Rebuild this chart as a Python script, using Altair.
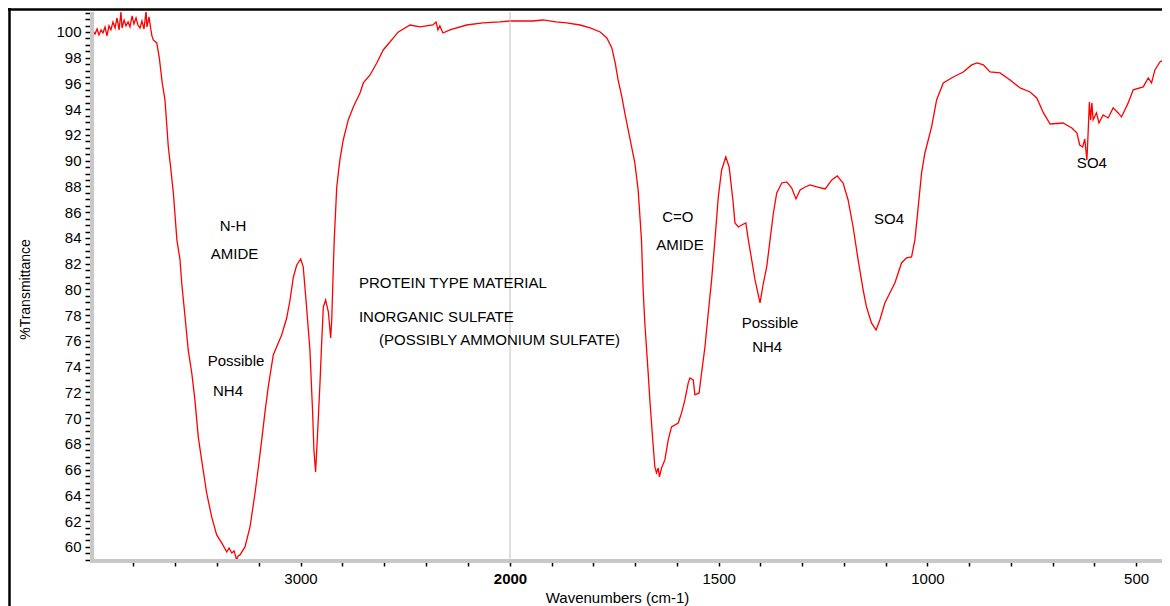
import altair as alt
import pandas as pd

# ---- spectrum ----
wavenumber = [
    3990, 3981, 3971, 3962, 3952, 3943, 3933, 3924, 3914, 3905, 3895, 3885, 3876, 3866,
    3857, 3852, 3842, 3833, 3823, 3814, 3804, 3795, 3785, 3776, 3766, 3757, 3747, 3737,
    3733, 3723, 3714, 3709, 3703, 3686, 3674, 3660, 3647, 3639, 3631, 3620, 3607, 3590,
    3575, 3567, 3551, 3536, 3519, 3504, 3488, 3472, 3448, 3424, 3400, 3376, 3352, 3341,
    3328, 3317, 3305, 3298, 3289, 3265, 3241, 3217, 3201, 3185, 3170, 3154, 3130, 3106,
    3090, 3066, 3050, 3034, 3018, 2999, 2987, 2971, 2955, 2942, 2936, 2928, 2920, 2907,
    2899, 2891, 2880, 2867, 2856, 2851, 2844, 2839, 2827, 2812, 2796, 2772, 2748, 2716,
    2700, 2668, 2636, 2605, 2573, 2533, 2477, 2430, 2368, 2353, 2344, 2335, 2320, 2287,
    2207, 2129, 2048, 2000, 1945, 1921, 1890, 1864, 1832, 1808, 1784, 1768, 1756, 1748,
    1741, 1732, 1724, 1712, 1701, 1693, 1685, 1681, 1677, 1669, 1665, 1658, 1653, 1649,
    1645, 1642, 1637, 1629, 1621, 1613, 1597, 1589, 1581, 1573, 1569, 1561, 1557, 1547,
    1541, 1533, 1525, 1517, 1509, 1501, 1493, 1483, 1475, 1466, 1461, 1453, 1445, 1435,
    1429, 1421, 1413, 1401, 1393, 1385, 1377, 1369, 1361, 1349, 1337, 1325, 1315, 1305,
    1293, 1281, 1265, 1245, 1229, 1216, 1202, 1190, 1178, 1166, 1154, 1146, 1134, 1123,
    1114, 1102, 1090, 1078, 1062, 1050, 1038, 1030, 1022, 1014, 1006, 990, 978, 962,
    938, 914, 894, 881, 866, 850, 826, 802, 778, 754, 738, 722, 706, 675,
    654, 642, 635, 628, 623, 618, 616, 612, 609, 606, 603, 595, 589, 579,
    567, 555, 543, 535, 519, 507, 483, 471, 463, 455, 443, 435, 427, 423, 419,
]
transmittance = [
    100.08, 99.84, 100.23, 99.77, 100.16, 99.92, 100.39, 99.69, 100.47, 100.16, 100.78, 100.31, 101.09, 100.16,
    101.55, 100.31, 100.93, 100.47, 100.78, 100.39, 101.24, 100.62, 101.09, 100.54, 100.31, 100.85, 100.23, 101.63,
    100.39, 101.17, 100.16, 99.69, 99.38, 99.15, 97.98, 96.04, 94.72, 92.93, 91.07, 89.51, 87.50, 83.85,
    82.29, 80.50, 77.86, 75.30, 73.51, 71.42, 68.55, 66.76, 64.19, 62.33, 60.93, 60.31, 59.61, 59.92,
    59.53, 59.69, 58.99, 59.30, 59.38, 60.00, 61.55, 64.19, 66.21, 68.31, 70.41, 72.43, 74.91, 75.84,
    76.46, 77.78, 79.18, 80.97, 81.90, 82.37, 81.75, 78.64, 75.30, 70.41, 67.53, 65.83, 68.31, 72.74,
    75.84, 78.64, 79.18, 78.25, 76.23, 77.63, 81.36, 83.85, 87.96, 90.06, 91.61, 93.17, 94.17, 95.26,
    96.04, 96.66, 97.59, 98.60, 99.22, 100.00, 100.54, 100.39, 100.54, 100.78, 100.16, 100.47, 99.92, 100.16,
    100.54, 100.70, 100.78, 100.85, 100.85, 100.93, 100.78, 100.70, 100.54, 100.31, 100.00, 99.53, 98.76, 97.59,
    96.27, 94.95, 93.55, 91.61, 89.83, 87.73, 83.85, 79.96, 77.40, 73.52, 71.42, 68.31, 66.21, 65.75,
    66.13, 65.44, 66.13, 66.76, 68.31, 69.32, 69.63, 70.41, 71.42, 72.74, 73.13, 72.97, 71.81, 71.96,
    73.52, 75.53, 78.17, 80.74, 83.85, 87.18, 89.28, 90.29, 89.51, 86.95, 85.17, 84.85, 85.01, 85.17,
    83.85, 82.29, 80.74, 78.95, 80.50, 81.75, 83.85, 85.94, 87.50, 88.27, 88.35, 87.88, 87.03, 87.73,
    87.96, 88.12, 87.96, 87.81, 88.51, 88.82, 88.27, 86.95, 84.85, 82.29, 79.96, 78.64, 77.40, 76.85,
    77.63, 78.95, 79.73, 80.50, 82.06, 82.45, 82.52, 83.85, 86.41, 89.05, 90.60, 92.62, 94.72, 96.04,
    96.50, 96.89, 97.44, 97.59, 97.44, 96.89, 96.82, 96.27, 95.65, 95.34, 94.87, 93.71, 92.85, 92.93,
    92.54, 92.16, 91.22, 91.07, 91.69, 90.06, 91.38, 94.56, 93.17, 94.49, 93.17, 93.71, 92.93, 93.55,
    93.32, 94.10, 93.71, 93.40, 94.49, 95.50, 95.73, 96.43, 96.04, 97.05, 97.67, 97.83, 98.37, 99.38, 99.61,
]

# ---- annotations ----
center_labels = ["N-H", "AMIDE", "Possible", "NH4", "C=O", "AMIDE", "Possible", "NH4", "SO4", "SO4"]
center_wn = [3322, 3315, 3308, 3346, 1598, 1593, 1377, 1384, 1092, 606]
center_t = [84.93, 82.75, 74.44, 72.11, 85.63, 83.45, 77.39, 75.53, 85.47, 89.82]

left_labels = ["PROTEIN TYPE MATERIAL", "INORGANIC SULFATE", "(POSSIBLY AMMONIUM SULFATE)"]
left_wn = [2721, 2721, 2625]
left_t = [80.50, 77.86, 76.07]

# ---- axes ----
x_tick_values = [3800, 3600, 3400, 3200, 3000, 2800, 2600, 2400, 2200, 2000,
                 1900, 1800, 1700, 1600, 1500, 1400, 1300, 1200, 1100, 1000,
                 900, 800, 700, 600, 500]
x_label_values = [3000, 2000, 1500, 1000, 500]
y_tick_values = [59.0, 59.5, 60.0, 60.5, 61.0, 61.5, 62.0, 62.5, 63.0, 63.5, 64.0, 64.5,
                 65.0, 65.5, 66.0, 66.5, 67.0, 67.5, 68.0, 68.5, 69.0, 69.5, 70.0, 70.5,
                 71.0, 71.5, 72.0, 72.5, 73.0, 73.5, 74.0, 74.5, 75.0, 75.5, 76.0, 76.5,
                 77.0, 77.5, 78.0, 78.5, 79.0, 79.5, 80.0, 80.5, 81.0, 81.5, 82.0, 82.5,
                 83.0, 83.5, 84.0, 84.5, 85.0, 85.5, 86.0, 86.5, 87.0, 87.5, 88.0, 88.5,
                 89.0, 89.5, 90.0, 90.5, 91.0, 91.5, 92.0, 92.5, 93.0, 93.5, 94.0, 94.5,
                 95.0, 95.5, 96.0, 96.5, 97.0, 97.5, 98.0, 98.5, 99.0, 99.5, 100.0, 100.5,
                 101.0, 101.5]
grid_value = [2000]

W, H = 1071, 550
FONT = "Liberation Sans"

df = pd.DataFrame({"wn": wavenumber, "T": transmittance, "i": list(range(len(wavenumber)))})
df_c = pd.DataFrame({"wn": center_wn, "T": center_t, "label": center_labels})
df_l = pd.DataFrame({"wn": left_wn, "T": left_t, "label": left_labels})
df_g = pd.DataFrame({"wn": grid_value})
one = pd.DataFrame({"a": [0]})

xscale = alt.Scale(domain=[4000, 2000, 438], range=[0, 419, W], nice=False, zero=False)
yscale = alt.Scale(domain=[58.83, 101.55], nice=False, zero=False)

label_list = ",".join(str(v) for v in x_label_values)
x_axis = alt.Axis(
    values=x_tick_values, format="d",
    labelExpr=f"indexof([{label_list}], datum.value) >= 0 ? datum.label : ''",
    labelFontWeight={"condition": {"test": "datum.value == 2000", "value": "bold"}, "value": "normal"},
    labelFontSize=15, labelFont=FONT, labelColor="black", labelPadding=5,
    labelOverlap=False, labelFlush=False,
    domain=False, ticks=True, tickColor="black", tickSize=4, tickWidth=1.5,
    grid=False,
    title="Wavenumbers (cm-1)", titleFont=FONT, titleFontSize=15, titleFontWeight="normal",
    titleColor="black", titleX=526, titleY=35, titleAlign="center", titleBaseline="middle",
)
y_axis = alt.Axis(
    values=y_tick_values, format=".0f",
    labelExpr="datum.value % 2 == 0 && datum.value >= 60 && datum.value <= 100 ? datum.label : ''",
    labelFontSize=15, labelFont=FONT, labelColor="black", labelPadding=4,
    labelOverlap=False, labelFlush=False,
    domain=False, ticks=True, tickColor="black", tickSize=6, tickWidth=1.5,
    grid=False,
    title="%Transmittance", titleFont=FONT, titleFontSize=14, titleFontWeight="normal",
    titleColor="black", titleX=-66, titleY=277, titleAngle=270, titleAlign="center",
    titleBaseline="middle",
)

band_color = "#c8c8c8"

yband = alt.Chart(one).mark_rule(color=band_color, strokeWidth=4).encode(
    x=alt.value(1), y=alt.value(0), y2=alt.value(H)
)
xband = alt.Chart(one).mark_rule(color=band_color, strokeWidth=4).encode(
    x=alt.value(-1), x2=alt.value(W), y=alt.value(H - 1)
)
line = alt.Chart(df).mark_line(color="#ff0000", strokeWidth=1.3, clip=True).encode(
    x=alt.X("wn:Q", scale=xscale, axis=x_axis),
    y=alt.Y("T:Q", scale=yscale, axis=y_axis),
    order="i:Q",
)
grid = alt.Chart(df_g).mark_rule(color="#c0c0c0", strokeWidth=1).encode(
    x=alt.X("wn:Q", scale=xscale, axis=x_axis)
)
text_c = alt.Chart(df_c).mark_text(font=FONT, fontSize=15, color="black", align="center",
                                   baseline="middle").encode(
    x=alt.X("wn:Q", scale=xscale, axis=x_axis),
    y=alt.Y("T:Q", scale=yscale, axis=y_axis),
    text="label:N",
)
text_l = alt.Chart(df_l).mark_text(font=FONT, fontSize=15, color="black", align="left",
                                   baseline="middle").encode(
    x=alt.X("wn:Q", scale=xscale, axis=x_axis),
    y=alt.Y("T:Q", scale=yscale, axis=y_axis),
    text="label:N",
)
frame_top = alt.Chart(one).mark_rule(color="black", strokeWidth=2.5).encode(
    x=alt.value(-83), x2=alt.value(W), y=alt.value(-2.5)
)
frame_left = alt.Chart(one).mark_rule(color="black", strokeWidth=2.5).encode(
    x=alt.value(-81.5), y=alt.value(-4), y2=alt.value(H + 44)
)

chart = alt.layer(line, grid, yband, xband, text_c, text_l, frame_top, frame_left).properties(
    width=W, height=H,
    padding={"left": 83, "top": 4, "right": 0, "bottom": 44},
    autosize=alt.AutoSizeParams(type="none"),
).configure(font=FONT).configure_view(stroke=None)

chart.save("out.html", embed_options={"renderer": "svg", "actions": False})
